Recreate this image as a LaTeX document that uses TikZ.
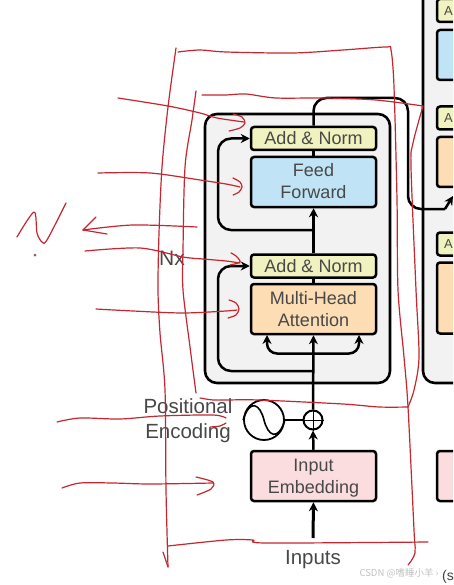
\documentclass[tikz,border=0pt]{standalone}
\usepackage{fontspec}
\setmainfont{Liberation Sans}
\newfontfamily\cjk{Noto Sans CJK SC}
\usetikzlibrary{arrows.meta}
\definecolor{txt}{HTML}{484848}
\definecolor{redink}{HTML}{C62630}
\definecolor{norm}{HTML}{F0F2C0}
\definecolor{ffblue}{HTML}{C0E4F6}
\definecolor{attn}{HTML}{FCDDB4}
\definecolor{embed}{HTML}{FBDDDF}
\definecolor{panel}{HTML}{F2F2F2}
\tikzset{
  lbl/.style={text=txt,align=center,font=\fontsize{18}{21.5}\selectfont},
  lblbig/.style={text=txt,align=center,font=\fontsize{20.5}{24.5}\selectfont},
  blk/.style={draw=black,line width=2.5pt,rounded corners=3pt,minimum width=125pt,inner sep=0pt,lbl},
  addnorm/.style={blk,fill=norm,minimum height=23pt},
  ffbox/.style={blk,fill=ffblue,minimum height=50pt},
  attbox/.style={blk,fill=attn,minimum height=50pt},
  embbox/.style={blk,fill=embed,minimum height=50pt},
  panelbox/.style={draw=black,line width=2.6pt,fill=panel,rounded corners=12pt},
  flow/.style={draw=black,line width=2.5pt},
  head/.style={-{Stealth[length=9pt,width=9pt]}},
  ink/.style={draw=redink,line width=1.2pt,line cap=round,line join=round},
  cutA/.style={text=txt,font=\fontsize{13}{15}\selectfont,inner sep=0pt,anchor=east},
}
\newcommand{\inkline}[2][]{\draw[ink,#1] plot[smooth,tension=.5] coordinates {#2};}
\begin{document}
\begin{tikzpicture}[x=1pt,y=-1pt]
\useasboundingbox (0,0) rectangle (453,585);
\clip (0,0) rectangle (453,585);
\fill[white] (0,0) rectangle (453,585);
% panels
\draw[panelbox] (205,114) rectangle (390,383);
\draw[panelbox] (423,-20) rectangle (490,383);
% encoder blocks
\node[addnorm] (an2) at (313.5,138.5) {Add \& Norm};
\node[ffbox] (ff) at (313.5,182) {};
\node[lbl] (fftxt) at (ff.center) [yshift=1pt] {Feed\\Forward};
\node[addnorm] (an1) at (313.5,266) {Add \& Norm};
\node[attbox] (mha) at (313.5,309) {Multi-Head\\Attention};
\node[embbox] (emb) at (313.5,476) {};
\node[lbl] (embtxt) at (313.5,478) {Input\\Embedding};
% decoder blocks (cut by the picture edge)
\node[addnorm] (d1) at (499.5,10.5) {};
\node[ffbox] (d2) at (499.5,55) {};
\node[addnorm] (d3) at (499.5,118) {};
\node[attbox] (d4) at (499.5,162) {};
\node[addnorm] (d5) at (499.5,244) {};
\node[attbox,minimum height=71pt] (d6) at (499.5,298) {};
\node[embbox] (d7) at (499.5,476) {};
\node[cutA] (a1) at (453,11) {A};
\node[cutA] (a2) at (453,118) {A};
\node[cutA] (a3) at (453,244) {A};
% positional encoding
\node[circle,draw=black,line width=2pt,minimum size=19pt,inner sep=0pt] (plus) at (313,420) {};
\draw[black,line width=1pt] (plus.north) -- (plus.south) (plus.west) -- (plus.east);
\node[circle,draw=black,line width=1.8pt,minimum size=40pt,inner sep=0pt] (sine) at (264,420) {};
\draw[black,line width=1.6pt] (sine.west) .. controls (250,398) and (260,404) .. (sine.center) .. controls (268,436) and (278,442) .. (sine.east);
\draw[black,line width=2.5pt] (sine.east) -- (plus.west);
\node[lblbig] (pos) at (188,420.5) {Positional\\Encoding};
\node[lblbig] (inp) at (313,560) {Inputs};
\coordinate (inpTop) at (313,538);
\node[text=txt,font=\fontsize{21}{24}\selectfont,inner sep=0pt] (nx) at (172,258) {Nx};
\node[text=black!75,font=\fontsize{14}{16}\selectfont,inner sep=0pt,anchor=west] (sfx) at (442,577) {(s};
\node[text=black!24,font=\cjk\fontsize{9.5}{11}\selectfont,inner sep=0pt] (wm) at (399,573) {CSDN @嗜睡小羊 ›};
% connectors
\coordinate (j1) at (313,230);
\coordinate (j2) at (313,371);
\coordinate (jl) at (313,353.5);
\coordinate (topR) at (408,98);
\coordinate (midR) at (408,209);
\draw[flow] (an2.south) -- (ff.north);
\draw[flow] (an1.south) -- (mha.north);
\draw[flow,head] (an1.north) -- (ff.south);
\draw[flow,head] (plus.north) -- (mha.south);
\draw[flow,head] (emb.north) -- (plus.south);
\draw[black,line width=3pt,head] (inpTop) -- (emb.south);
\draw[flow,head,rounded corners=13pt] (j1) -| (218,138.5) -- (an2.west);
\draw[flow,head,rounded corners=13pt] (j2) -| (218,266) -- (an1.west);
\draw[flow,head,rounded corners=10pt] (jl) -| (267,335);
\draw[flow,head,rounded corners=10pt] (jl) -| (359,335);
\draw[flow,rounded corners=13pt] (an2.north) |- (topR) -- (midR) -- (445,209);
\draw[black,line width=2.5pt,head] (445,209) -- (453,196);
% red handwriting
\inkline{(176,48)(168,107)(162,167)(159,233)(158,290)(160,333)(165,390)(166,490)(168,567)}
\inkline{(163,552)(168,567)}
\inkline{(178,52)(200,50)(226,52)(293,53)(343,50)(386,47)(391,50)(394,87)(397,200)(398,290)(404,357)(408,407)(414,530)(415,553)(408,565)}
\inkline{(168,546)(226,540)(253,540)(266,543)(428,542)}
\inkline{(196,91)(192,120)(185,167)(183,250)(183,290)(190,347)(196,393)}
\inkline{(202,95)(226,95)(246,94)(276,98)(326,98)(376,100)(423,106)}
\inkline{(423,106)(413,143)(411,167)(416,290)(419,357)(414,390)(408,407)}
\inkline{(408,407)(379,407)(343,404)(259,400)(226,400)(213,400)(200,398)}
\inkline{(118,98)(168,106)(200,113)(217,118)(244,122)}
\inkline{(233,114)(242,117)(245,123)(240,128)(229,131)}
\inkline{(98,173)(150,173)(200,180)(226,184)(240,187)}
\inkline{(233,178)(240,182)(242,187)(239,192)(233,195)}
\inkline{(197,227)(133,225)(83,230)}
\inkline{(96,217)(83,230)}
\inkline{(83,230)(107,234)}
\inkline{(85,251)(140,248)(183,257)(203,259)(226,261)(240,263)}
\inkline{(231,253)(236,256)(240,262)(230,265)}
\inkline{(96,309)(133,311)(183,313)(226,311)(237,310)}
\inkline{(229,300)(236,303)(239,309)(236,315)(228,318)}
\inkline{(57,422)(80,418)(120,419)(160,416)(213,415)(226,418)}
\inkline{(210,427)(220,426)(226,423)}
\inkline{(62,488)(80,483)(113,483)(150,484)(213,483)}
\inkline{(196,477)(213,482)(211,489)(197,495)}
\inkline{(17,237)(34,212)(37,233)(42,242)(47,240)(66,203)}
\fill[redink!50!gray] (35,255) circle (1.5pt);
\end{tikzpicture}
\end{document}
